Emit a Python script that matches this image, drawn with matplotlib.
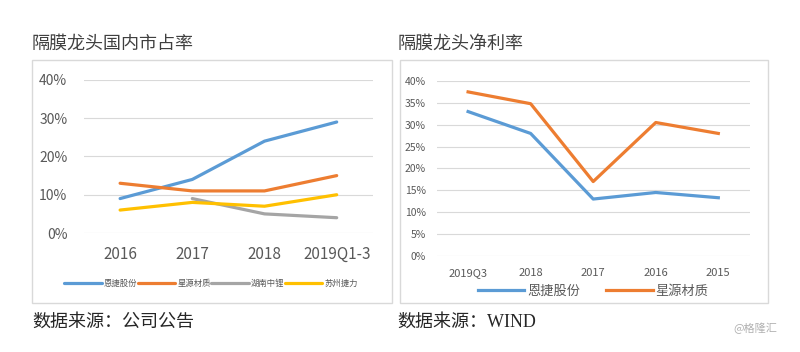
import numpy as np
import matplotlib
matplotlib.use('Agg')
import matplotlib.pyplot as plt
from matplotlib.patches import Rectangle

plt.rcParams['font.family'] = ['Noto Sans CJK SC', 'DejaVu Sans']

# 左图: 国内市占率 (%)
share_years = ['2016', '2017', '2018', '2019Q1-3']
share_enjie = [9, 14, 24, 29]
share_xingyuan = [13, 11, 11, 15]
share_hunan = [np.nan, 9, 5, 4]
share_suzhou = [6, 8, 7, 10]
share_names = ['恩捷股份', '星源材质', '湖南中锂', '苏州捷力']

# 右图: 净利率 (%)
margin_years = ['2019Q3', '2018', '2017', '2016', '2015']
margin_enjie = [33, 28, 13, 14.5, 13.3]
margin_xingyuan = [37.5, 34.8, 17, 30.5, 28]
margin_names = ['恩捷股份', '星源材质']

BLUE = '#5B9BD5'
ORANGE = '#ED7D31'
GRAY = '#A5A5A5'
YELLOW = '#FFC000'
GRID = '#D9D9D9'
TICK = '#595959'

fig = plt.figure(figsize=(8, 3.52), dpi=100)

# 外框
for x0 in (0.04, 0.5):
    w = 0.45 if x0 < 0.5 else 0.46
    fig.patches.append(Rectangle((x0, 0.139), w, 0.69, transform=fig.transFigure,
                                 fill=False, edgecolor=GRID, linewidth=1.0))

# ---------- 左图 ----------
ax1 = fig.add_axes([0.105, 0.338, 0.361, 0.435])
x1 = np.arange(len(share_years))
for vals, c, name in zip([share_enjie, share_xingyuan, share_hunan, share_suzhou],
                         [BLUE, ORANGE, GRAY, YELLOW], share_names):
    ax1.plot(x1, np.array(vals, dtype=float) / 100, color=c, linewidth=2.3, label=name,
             solid_capstyle='round')
ax1.set_xlim(-0.5, len(share_years) - 0.5)
ax1.set_ylim(0, 0.40)
ax1.set_yticks([0, 0.1, 0.2, 0.3, 0.4])
ax1.set_yticklabels(['0%', '10%', '20%', '30%', '40%'])
ax1.set_xticks(x1)
ax1.set_xticklabels(share_years)
ax1.tick_params(axis='y', length=0, labelsize=10, labelcolor=TICK, pad=12)
ax1.tick_params(axis='x', length=0, labelsize=11, labelcolor=TICK, pad=9)
ax1.grid(axis='y', color=GRID, linewidth=0.8)
ax1.set_axisbelow(True)
for s in ax1.spines.values():
    s.set_visible(False)
ax1.legend(loc='upper center', bbox_to_anchor=(0.44, -0.25), ncol=4, frameon=False,
           fontsize=6, labelcolor=TICK, handlelength=4.5, handletextpad=0.2,
           columnspacing=0.1)

# ---------- 右图 ----------
ax2 = fig.add_axes([0.546, 0.273, 0.391, 0.497])
x2 = np.arange(len(margin_years))
for vals, c, name in zip([margin_enjie, margin_xingyuan], [BLUE, ORANGE], margin_names):
    ax2.plot(x2, np.array(vals) / 100, color=c, linewidth=2.3, label=name)
ax2.set_xlim(-0.5, len(margin_years) - 0.5)
ax2.set_ylim(0, 0.40)
ax2.set_yticks(np.arange(0, 0.41, 0.05))
ax2.set_yticklabels([f'{v}%' for v in range(0, 41, 5)])
ax2.set_xticks(x2)
ax2.set_xticklabels(margin_years)
ax2.tick_params(axis='y', length=0, labelsize=7.5, labelcolor=TICK, pad=8)
ax2.tick_params(axis='x', length=0, labelsize=8, labelcolor=TICK, pad=9)
ax2.grid(axis='y', color=GRID, linewidth=0.8)
ax2.set_axisbelow(True)
for s in ax2.spines.values():
    s.set_visible(False)
ax2.legend(loc='upper center', bbox_to_anchor=(0.5, -0.095), ncol=2, frameon=False,
           fontsize=9.5, labelcolor=TICK, handlelength=3.5, handletextpad=0.2,
           columnspacing=2.0)

# ---------- 文本 ----------
fig.text(0.04, 0.877, '隔膜龙头国内市占率', fontsize=13, color='#404040', va='center')
fig.text(0.497, 0.877, '隔膜龙头净利率', fontsize=13, color='#404040', va='center')
fig.text(0.04, 0.085, '数据来源：公司公告', fontsize=13, color='#262626', va='center')
fig.text(0.497, 0.085, '数据来源：WIND', fontsize=13, color='#262626', va='center',
         family=['Liberation Serif', 'Noto Sans CJK SC'])
fig.text(0.972, 0.068, '@格隆汇', fontsize=8, color='#B0B0B0', va='center', ha='right')

fig.savefig('out.png', dpi=100)
